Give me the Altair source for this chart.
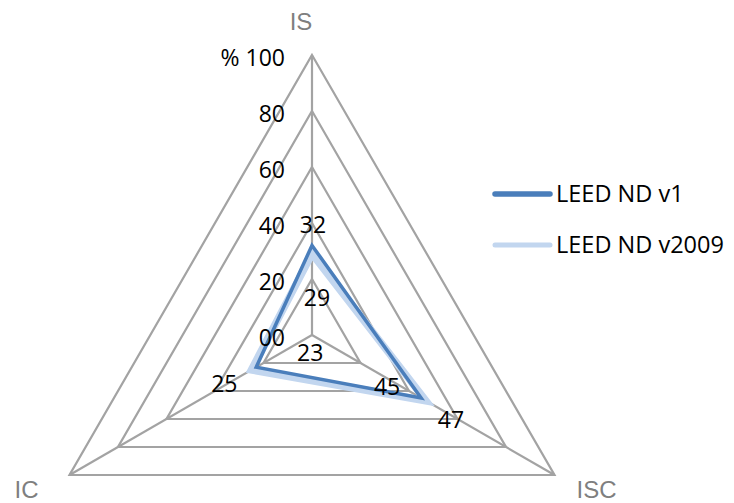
import altair as alt
import pandas as pd
import numpy as np

# ---- data ----
axis_names = ["IS", "ISC", "IC"]
axis_angles = [90, -30, 210]          # degrees, IS at the top
series_names = ["LEED ND v1", "LEED ND v2009"]
v1_values = [32, 45, 23]
v2009_values = [29, 47, 25]
ring_levels = [20, 40, 60, 80, 100]
tick_values = [0, 20, 40, 60, 80, 100]
tick_labels = ["00", "20", "40", "60", "80", "% 100"]

# ---- style / layout ----
W, H = 718, 495
PX = 2.8                 # pixels per value unit
CX, CY = 304, 327        # centre of the radar in plot pixels
GRID = "#a3a3a3"
DARK = "#4a7ebb"
LIGHT = "#c2d6ef"
TXT_FONT = "Open Sans"
AX_FONT = "Liberation Sans"

# label offsets in px (dx, dy) per series per axis
label_offsets = {
    "LEED ND v1": [(1, -19), (-34, -10), (54, -13)],
    "LEED ND v2009": [(5, 45), (25, 20), (-27, 15)],
}
# axis-name offsets from the outer vertex (dx, baseline dy)
axis_label_offsets = [(-11, -25), (42, 23), (-43, 23)]

xs = alt.Scale(domain=[-CX / PX, (W - CX) / PX], range=[0, W], zero=False, nice=False)
ys = alt.Scale(domain=[(CY - H) / PX, CY / PX], range=[H, 0], zero=False, nice=False)


def pol(v, ang):
    a = np.deg2rad(ang)
    return v * np.cos(a), v * np.sin(a)


# rings
rows = []
for lv in ring_levels:
    for i, ang in enumerate(axis_angles):
        x, y = pol(lv, ang)
        rows.append({"level": lv, "o": i, "x": x, "y": y})
rings = pd.DataFrame(rows)

# spokes
srows = []
for name, ang in zip(axis_names, axis_angles):
    x, y = pol(max(ring_levels), ang)
    srows.append({"axis": name, "x": 0.0, "y": 0.0, "x2": x, "y2": y})
spokes = pd.DataFrame(srows)

# series
series_vals = {"LEED ND v1": v1_values, "LEED ND v2009": v2009_values}
prow, lrow = [], []
for s in series_names:
    for i, (v, ang) in enumerate(zip(series_vals[s], axis_angles)):
        x, y = pol(v, ang)
        prow.append({"series": s, "o": i, "x": x, "y": y})
        dx, dy = label_offsets[s][i]
        lrow.append({"series": s, "label": str(v), "x": x + dx / PX, "y": y - dy / PX})
pts = pd.DataFrame(prow)
labels = pd.DataFrame(lrow)

# tick labels
ticks = pd.DataFrame({"t": tick_labels, "v": tick_values, "x": [0.0] * len(tick_values)})

# axis names
arow = []
for name, ang, (dx, dy) in zip(axis_names, axis_angles, axis_label_offsets):
    x, y = pol(max(ring_levels), ang)
    arow.append({"name": name, "x": x + dx / PX, "y": y - dy / PX})
axlab = pd.DataFrame(arow)

X = lambda f="x": alt.X(f"{f}:Q", scale=xs, axis=None)
Y = lambda f="y": alt.Y(f"{f}:Q", scale=ys, axis=None)

ring_layer = alt.Chart(rings).mark_line(
    color=GRID, strokeWidth=2.2, interpolate="linear-closed"
).encode(x=X(), y=Y(), detail="level:N", order="o:Q")

spoke_layer = alt.Chart(spokes).mark_rule(color=GRID, strokeWidth=2.2).encode(
    x=X(), y=Y(), x2="x2:Q", y2="y2:Q"
)

light_layer = alt.Chart(pts[pts.series == "LEED ND v2009"]).mark_line(
    color=LIGHT, strokeWidth=7.5, interpolate="linear-closed"
).encode(x=X(), y=Y(), order="o:Q")

dark_layer = alt.Chart(pts[pts.series == "LEED ND v1"]).mark_line(
    color=DARK, strokeWidth=3.5, interpolate="linear-closed"
).encode(x=X(), y=Y(), order="o:Q")

label_layer = alt.Chart(labels).mark_text(
    font=TXT_FONT, fontSize=23, color="black", align="center", baseline="middle"
).encode(x=X(), y=Y(), text="label:N")

tick_layer = alt.Chart(ticks).mark_text(
    font=TXT_FONT, fontSize=23, color="black", align="right", baseline="middle", dx=-27, dy=4
).encode(x=X(), y=Y("v"), text="t:N")

axname_layer = alt.Chart(axlab).mark_text(
    font=AX_FONT, fontSize=24, color="#7f7f7f", align="center", baseline="alphabetic"
).encode(x=X(), y=Y(), text="name:N")

legend_layers = []
for i, (s, col, sw) in enumerate(zip(series_names, [DARK, LIGHT], [5.5, 5])):
    ly = 186 + i * 51
    legend_layers.append(
        alt.Chart(pd.DataFrame({"s": [s]})).mark_rule(color=col, strokeWidth=sw, strokeCap="round").encode(
            x=alt.value(487), x2=alt.value(542), y=alt.value(ly)
        )
    )
    legend_layers.append(
        alt.Chart(pd.DataFrame({"s": [s]})).mark_text(
            font=TXT_FONT, fontSize=23.5, color="black", align="left", baseline="middle"
        ).encode(x=alt.value(548), y=alt.value(ly + 1), text="s:N")
    )

chart = alt.layer(
    ring_layer, spoke_layer, light_layer, dark_layer, label_layer, tick_layer, axname_layer, *legend_layers
).properties(
    width=W, height=H, padding=0, autosize=alt.AutoSizeParams(type="none")
).configure_view(stroke=None)

chart.save("out.html", embed_options={"renderer": "svg", "actions": False})
